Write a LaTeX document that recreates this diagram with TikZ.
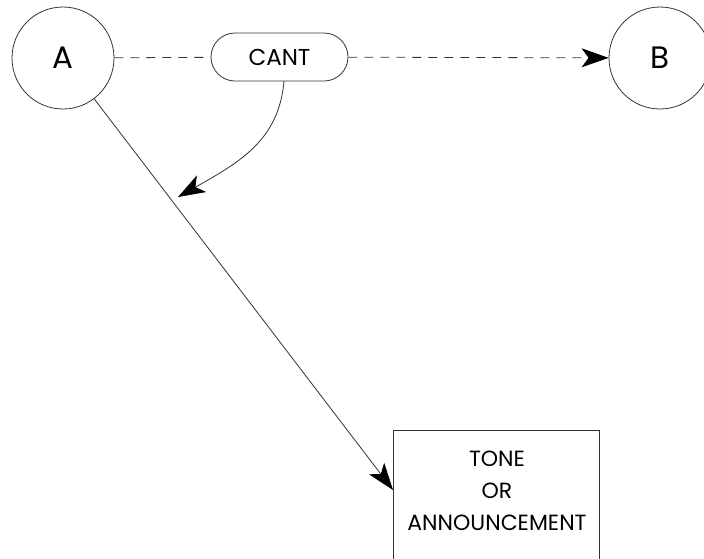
\documentclass[tikz,border=0pt]{standalone}
\usepackage{fontspec}
\setmainfont{Poppins}
\usetikzlibrary{arrows.meta,shapes.misc}
\begin{document}
\begin{tikzpicture}[x=1pt,y=-1pt,
  every node/.style={inner sep=0pt},
  st/.style={draw=black!80,line width=0.8pt},
  circ/.style={st,circle,minimum size=102pt,font=\fontsize{31}{31}\selectfont},
  tip/.style={-{Stealth[length=27pt,width=19pt,inset=7pt,color=black]}},
  dsh/.style={st,dash pattern=on 9pt off 7pt}]
\useasboundingbox[fill=white] (0,0) rectangle (704,558);
\node[circ] (A) at (63,58) {A};
\node[circ] (B) at (660,58) {B};
\node[st,rounded rectangle,minimum width=137pt,minimum height=48pt,font=\fontsize{23}{23}\selectfont] (C) at (279.5,57) {CANT};
\node[st,rectangle,minimum width=206pt,minimum height=150pt,anchor=north west] (T) at (393,430) {};
\node[font=\fontsize{22}{32}\selectfont,align=center,anchor=north] (Tx) at (497,451) {TONE\\OR\\ANNOUNCEMENT};
\coordinate (t) at (393,490);
\coordinate (m) at (178,197);
\coordinate (cs) at (284,81);
\draw[dsh] (A) -- (C);
\draw[dsh,tip] (C) -- (B);
\draw[st,tip] (A) -- (t);
\draw[st,tip] (cs) .. controls (279,140) and (240,162) .. (m);
\end{tikzpicture}
\end{document}
